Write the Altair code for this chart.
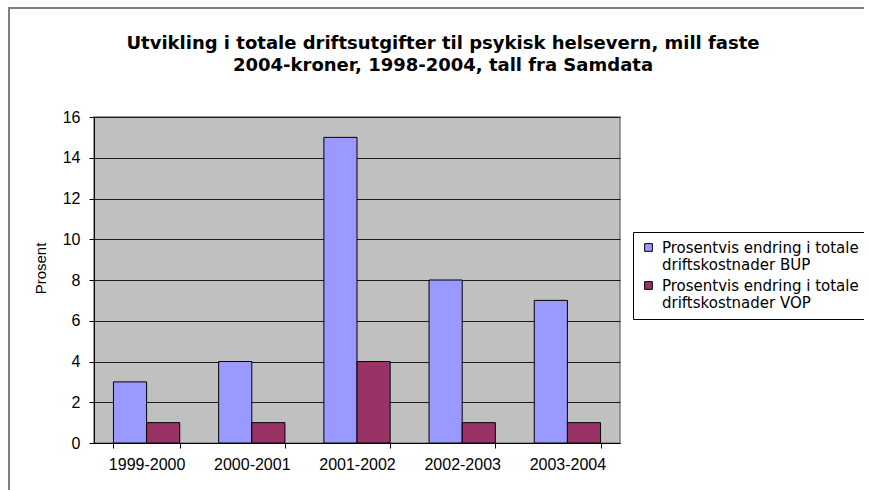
import altair as alt
import pandas as pd

categories = ["1999-2000", "2000-2001", "2001-2002", "2002-2003", "2003-2004"]
series_names = ["Prosentvis endring i totale\ndriftskostnader BUP",
                "Prosentvis endring i totale\ndriftskostnader VOP"]
bup = [3, 4, 15, 8, 7]
vop = [1, 1, 4, 1, 1]
colors = ["#9999FF", "#993366"]
title_lines = ["Utvikling i totale driftsutgifter til psykisk helsevern, mill faste",
               "2004-kroner, 1998-2004, tall fra Samdata"]

rows = []
for c, b, v in zip(categories, bup, vop):
    rows.append({"periode": c, "serie": series_names[0], "verdi": b})
    rows.append({"periode": c, "serie": series_names[1], "verdi": v})
df = pd.DataFrame(rows)

FONT = "Liberation Sans"
one = pd.DataFrame({"a": [0]})

frame_top = alt.Chart(one).mark_rule(color="#808080", strokeWidth=2).encode(
    x=alt.value(-85), x2=alt.value(780), y=alt.value(-109))
frame_left = alt.Chart(one).mark_rule(color="#808080", strokeWidth=2).encode(
    x=alt.value(-85), y=alt.value(-110), y2=alt.value(380))

title1 = alt.Chart(one).mark_text(
    font="DejaVu Sans", fontSize=18, fontWeight="bold", color="black", baseline="middle",
    align="center").encode(x=alt.value(349), y=alt.value(-73), text=alt.value(title_lines[0]))
title2 = alt.Chart(one).mark_text(
    font="DejaVu Sans", fontSize=18, fontWeight="bold", color="black", baseline="middle",
    align="center").encode(x=alt.value(349), y=alt.value(-51), text=alt.value(title_lines[1]))

bars = alt.Chart(df).mark_bar(stroke="black", strokeWidth=1).encode(
    x=alt.X("periode:N", sort=categories,
            scale=alt.Scale(paddingInner=0.37, paddingOuter=0.185),
            axis=alt.Axis(title=None, labelAngle=0, labelFont=FONT, labelFontSize=16,
                          labelColor="black", labelPadding=8, tickBand="extent",
                          tickColor="black", tickSize=5, domainColor="black", grid=False)),
    xOffset=alt.XOffset("serie:N", sort=series_names),
    y=alt.Y("verdi:Q", scale=alt.Scale(domain=[0, 16]),
            axis=alt.Axis(title="Prosent", values=list(range(0, 17, 2)), labelFont=FONT,
                          labelFontSize=16, labelColor="black", titleFont=FONT,
                          titleFontSize=15, titleFontWeight="normal", titleColor="black",
                          titleX=-54, titleY=151, titleAngle=270, titleAlign="center",
                          titleBaseline="middle",
                          tickColor="black", tickSize=5, labelPadding=9,
                          domainColor="black", gridColor="#1a1a1a", gridWidth=1)),
    color=alt.Color("serie:N", sort=series_names,
                    scale=alt.Scale(domain=series_names, range=colors),
                    legend=alt.Legend(title=None, orient="none", legendX=539, legendY=115,
                                      labelFont="DejaVu Sans", labelFontSize=15,
                                      labelColor="black",
                                      labelExpr="split(datum.label, '\\n')",
                                      symbolType="square", symbolSize=60,
                                      symbolStrokeColor="black", symbolStrokeWidth=1,
                                      strokeColor="black", padding=8, rowPadding=5,
                                      labelOffset=6,
                                      fillColor="white", labelLimit=400)),
)

chart = alt.layer(frame_top, frame_left, bars, title1, title2).properties(
    width=526, height=326,
    padding={"left": 94, "top": 117, "right": 244, "bottom": 47},
    autosize=alt.AutoSizeParams(type="none"),
    background="white",
).configure_view(fill="#C0C0C0", stroke="#808080", strokeWidth=1.5)

chart.save("out.html", embed_options={"renderer": "svg", "actions": False})
